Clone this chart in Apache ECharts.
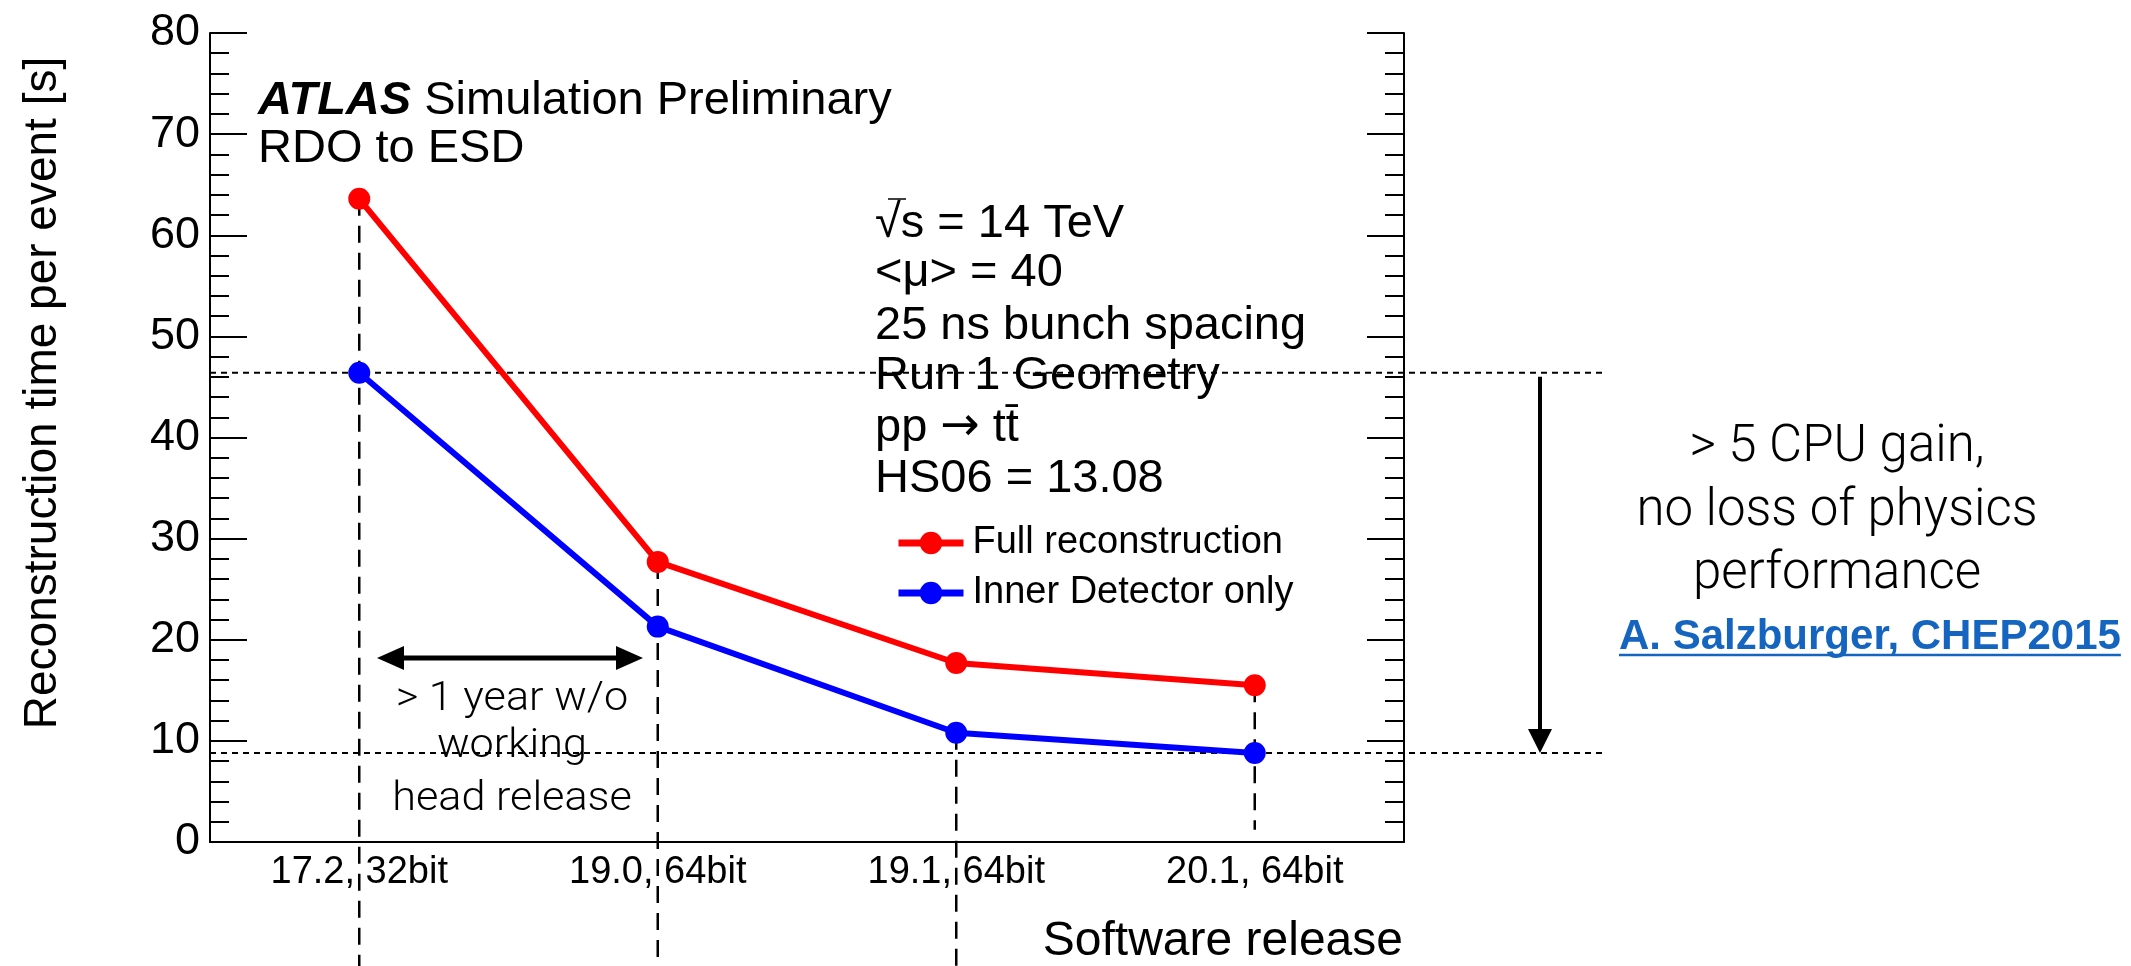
<!DOCTYPE html>
<html>
<head>
<meta charset="utf-8">
<script src="https://cdn.jsdelivr.net/npm/echarts@6/dist/echarts.min.js"></script>
<style>
html, body { margin: 0; padding: 0; background: #fff; }
#main { width: 2131px; height: 966px; }
</style>
</head>
<body>
<div id="main"></div>
<script>
// data
var releases = ['17.2, 32bit', '19.0, 64bit', '19.1, 64bit', '20.1, 64bit'];
var fullReco = [63.6, 27.7, 17.7, 15.5];
var innerDet = [46.4, 21.3, 10.8, 8.8];
var yMin = 0, yMax = 80, yStep = 10;

var infoLines = ['\u221As = 14 TeV', '<\u03BC> = 40', '25 ns bunch spacing', 'Run 1 Geometry', 'pp {r|\u2192} tt\u0304', 'HS06 = 13.08'];
var gainLines = ['> 5 CPU gain,', 'no loss of physics', 'performance'];
var gapLines = ['> 1 year w/o', 'working', 'head release'];
// dashed drop lines: series they start on, value they stop at (null = bottom of page)
var dropFrom = ['full', 'full', 'inner', 'full'];
var dropTo = [null, null, null, 1.2];

var FONT = '"Liberation Sans", Arial, Helvetica, sans-serif';
var LIGHT = 'Roboto, "Open Sans", sans-serif';
var gridLeft = 210, gridRight = 727, gridTop = 33, gridBottom = 124;
var W = 2131, H = 966;

var chart = echarts.init(document.getElementById('main'), null, { renderer: 'canvas' });

var tickStyle = { color: '#000', width: 2 };
var option = {
  backgroundColor: '#fff',
  animation: false,
  grid: { left: gridLeft, right: gridRight, top: gridTop, bottom: gridBottom },
  legend: {
    left: 890, top: 519, orient: 'vertical',
    itemWidth: 65, itemHeight: 28, itemGap: 12,
    lineStyle: { width: 7 },
    textStyle: { fontFamily: FONT, fontSize: 38, color: '#000', padding: [0, 0, 0, 4] },
    data: ['Full reconstruction', 'Inner Detector only']
  },
  xAxis: [{
    type: 'category', data: releases, boundaryGap: true,
    axisLine: { lineStyle: tickStyle },
    axisTick: { inside: true, length: 23, lineStyle: tickStyle },
    axisLabel: { fontFamily: FONT, fontSize: 38, color: '#000', margin: 12 },
    splitLine: { show: false }
  }, {
    type: 'category', data: releases, boundaryGap: true, position: 'top',
    axisLine: { lineStyle: tickStyle },
    axisTick: { inside: true, length: 23, lineStyle: tickStyle },
    axisLabel: { show: false },
    splitLine: { show: false }
  }],
  yAxis: [{
    type: 'value', min: yMin, max: yMax, interval: yStep,
    axisLine: { show: true, lineStyle: tickStyle },
    axisTick: { show: true, inside: true, length: 37, lineStyle: tickStyle },
    minorTick: { show: true, splitNumber: 5, length: 19, lineStyle: tickStyle },
    axisLabel: { fontFamily: FONT, fontSize: 45, color: '#000', margin: 10 },
    splitLine: { show: false }
  }, {
    type: 'value', min: yMin, max: yMax, interval: yStep, position: 'right',
    axisLine: { show: true, lineStyle: tickStyle },
    axisTick: { show: true, inside: true, length: 37, lineStyle: tickStyle },
    minorTick: { show: true, splitNumber: 5, length: 19, lineStyle: tickStyle },
    axisLabel: { show: false },
    splitLine: { show: false }
  }],
  series: [{
    name: 'Full reconstruction', type: 'line', data: fullReco,
    symbol: 'circle', symbolSize: 22, color: '#ff0000',
    lineStyle: { width: 6, color: '#ff0000' }, itemStyle: { color: '#ff0000' }, z: 3
  }, {
    name: 'Inner Detector only', type: 'line', data: innerDet,
    symbol: 'circle', symbolSize: 22, color: '#0000ff',
    lineStyle: { width: 6, color: '#0000ff' }, itemStyle: { color: '#0000ff' }, z: 3
  }]
};
chart.setOption(option);

function px(i, v) {
  return chart.convertToPixel({ xAxisIndex: 0, yAxisIndex: 0 }, [i, v]);
}

// text helper: b is the baseline, k the middle-to-baseline ratio of the font
function txt(x, b, text, fs, extra, k) {
  var st = { text: text, fontFamily: FONT, fontSize: fs, fill: '#000', align: 'left', verticalAlign: 'middle' };
  for (var key in (extra || {})) st[key] = extra[key];
  return { type: 'text', x: x, y: b - (k || 0.30) * fs, z: 10, style: st };
}

var g = [];
var seriesVals = { full: fullReco, inner: innerDet };

// dashed drop lines
releases.forEach(function (r, i) {
  var p = px(i, seriesVals[dropFrom[i]][i]);
  var y2 = dropTo[i] == null ? H : px(i, dropTo[i])[1];
  g.push({ type: 'line', z: 1, shape: { x1: p[0], y1: p[1], x2: p[0], y2: y2 },
    style: { stroke: '#000', lineWidth: 2.5, lineDash: [17, 10] } });
});

// dotted levels at first and last inner-detector value, and the gain arrow
var yTopLvl = px(0, innerDet[0])[1];
var yBotLvl = px(3, innerDet[3])[1];
[yTopLvl, yBotLvl].forEach(function (y) {
  g.push({ type: 'line', z: 1, shape: { x1: gridLeft, y1: y, x2: 1605, y2: y },
    style: { stroke: '#000', lineWidth: 2, lineDash: [6, 5] } });
});
var ax = 1540;
g.push({ type: 'line', z: 5, shape: { x1: ax, y1: yTopLvl + 4, x2: ax, y2: yBotLvl - 20 },
  style: { stroke: '#000', lineWidth: 4 } });
g.push({ type: 'polygon', z: 5, shape: { points: [[ax - 12, yBotLvl - 24], [ax + 12, yBotLvl - 24], [ax, yBotLvl]] },
  style: { fill: '#000' } });

// double arrow "> 1 year"
var dy = 658, dx1 = 377, dx2 = 643;
g.push({ type: 'line', z: 5, shape: { x1: dx1 + 20, y1: dy, x2: dx2 - 20, y2: dy }, style: { stroke: '#000', lineWidth: 5 } });
g.push({ type: 'polygon', z: 5, shape: { points: [[dx1, dy], [dx1 + 27, dy - 12], [dx1 + 27, dy + 12]] }, style: { fill: '#000' } });
g.push({ type: 'polygon', z: 5, shape: { points: [[dx2, dy], [dx2 - 27, dy - 12], [dx2 - 27, dy + 12]] }, style: { fill: '#000' } });

// ATLAS label
g.push(txt(258, 115, '{a|ATLAS} Simulation Preliminary', 47, {
  rich: { a: { fontFamily: FONT, fontSize: 47, fontWeight: 'bold', fontStyle: 'italic', fill: '#000' } }
}));
g.push(txt(258, 163, 'RDO to ESD', 47));

// run conditions
var infoBase = [238, 287, 340, 390, 442, 493];
infoLines.forEach(function (s, i) {
  g.push(txt(875, infoBase[i], s, 47, {
    rich: { r: { fontFamily: '"DejaVu Sans"', fontSize: 47, fill: '#000' } }
  }));
});
// overline of the square root
g.push({ type: 'line', z: 10, shape: { x1: 888, y1: 199, x2: 906, y2: 199 }, style: { stroke: '#000', lineWidth: 1.5 } });

// axis titles
g.push({ type: 'text', x: 43, y: 393, rotation: Math.PI / 2, z: 10,
  style: { text: 'Reconstruction time per event [s]', fontFamily: FONT, fontSize: 46, fill: '#000', align: 'center', verticalAlign: 'middle' } });
g.push(txt(1403, 956, 'Software release', 48, { align: 'right' }));

// "> 1 year" note
var gapBase = [708, 755, 808];
gapLines.forEach(function (s, i) {
  var t = txt(512, gapBase[i], s, 40, { align: 'center', fontFamily: LIGHT, fontWeight: 300 }, 0.2);
  t.scaleX = 1.08;
  g.push(t);
});

// gain note
var gainBase = [458, 522, 585];
gainLines.forEach(function (s, i) {
  g.push(txt(1837, gainBase[i], s, 51, { align: 'center', fontFamily: LIGHT, fontWeight: 300 }, 0.2));
});
var ref = 'A. Salzburger, CHEP2015';
var refFont = 42;
var cv = document.createElement('canvas').getContext('2d');
cv.font = 'bold ' + refFont + 'px "Liberation Sans"';
var refW = cv.measureText(ref).width;
g.push(txt(1619, 650, ref, refFont, { fontWeight: 'bold', fill: '#1565c0' }));
g.push({ type: 'line', z: 10, shape: { x1: 1619, y1: 655, x2: 1619 + refW, y2: 655 }, style: { stroke: '#1565c0', lineWidth: 2.5 } });

chart.setOption({ graphic: g });
</script>
</body>
</html>
